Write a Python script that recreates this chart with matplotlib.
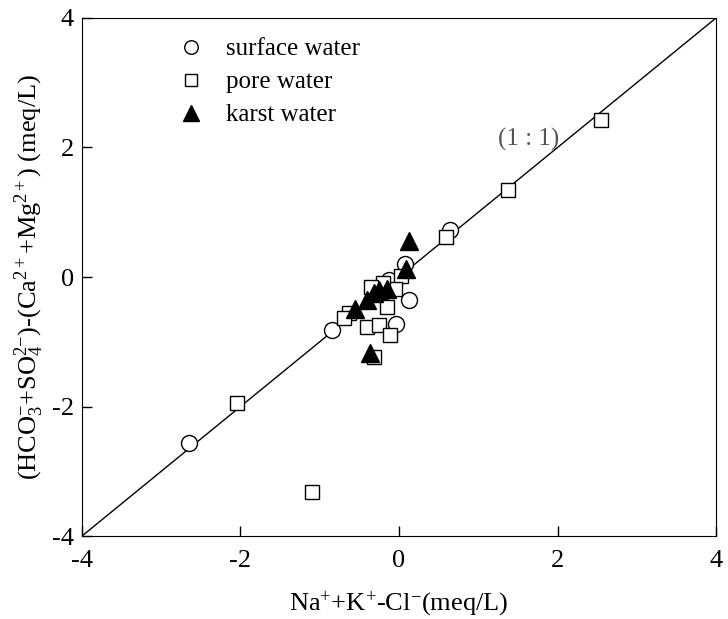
import numpy as np
import matplotlib
matplotlib.use("Agg")
import matplotlib.pyplot as plt

plt.rcParams["font.family"] = ["Liberation Serif", "DejaVu Serif"]
plt.rcParams["mathtext.fontset"] = "custom"
plt.rcParams["mathtext.rm"] = "Liberation Serif"
plt.rcParams["mathtext.it"] = "Liberation Serif:italic"
plt.rcParams["axes.unicode_minus"] = False

# surface water
sw_x = [-2.65, 0.64, 0.08, -0.13, 0.13, -0.85, -0.04]
sw_y = [-2.56, 0.72, 0.20, -0.05, -0.35, -0.82, -0.73]

# pore water
pw_x = [-2.04, -1.10, 1.37, 2.55, 0.59, 0.02, -0.05, -0.20, -0.35, -0.15,
        -0.63, -0.70, -0.40, -0.25, -0.11, -0.32]
pw_y = [-1.94, -3.32, 1.35, 2.42, 0.62, 0.02, -0.18, -0.10, -0.15, -0.46,
        -0.56, -0.64, -0.77, -0.74, -0.90, -1.24]

# karst water
kw_x = [0.13, 0.09, -0.15, -0.25, -0.32, -0.41, -0.56, -0.36]
kw_y = [0.55, 0.13, -0.18, -0.20, -0.24, -0.35, -0.49, -1.17]

fig = plt.figure(figsize=(7.28, 6.19), dpi=100)
ax = fig.add_axes([0.1126, 0.134, 0.871, 0.837])

ax.plot([-4, 4], [-4, 4], color="black", lw=1.0, zorder=1)

ax.plot(sw_x, sw_y, "o", ms=11.5, mfc="white", mec="black", mew=1.0,
        label="surface water", zorder=2)
ax.plot(pw_x, pw_y, "s", ms=10.5, mfc="white", mec="black", mew=1.0,
        label="pore water", zorder=3)
ax.plot(kw_x, kw_y, "^", ms=13, mfc="black", mec="black",
        label="karst water", zorder=4)

ax.text(1.63, 2.12, "(1 : 1)", fontsize=18, color="#555555",
        ha="center", va="center")

ax.set_xlim(-4, 4)
ax.set_ylim(-4, 4)
ax.set_xticks([-4, -2, 0, 2, 4])
ax.set_yticks([-4, -2, 0, 2, 4])
ax.tick_params(direction="in", length=7, width=1, labelsize=19)
ax.tick_params(axis="x", pad=10)
ax.tick_params(axis="y", pad=6)

ax.set_xlabel(r"Na$^{+}$+K$^{+}$-Cl$^{\mathrm{-}}$(meq/L)", fontsize=19,
              labelpad=12)
ax.set_ylabel(r"(HCO$_3^{\mathrm{-}}$+SO$_4^{2\mathrm{-}}$)-(Ca$^{2+}$+Mg$^{2+}$) (meq/L)",
              fontsize=19, labelpad=4)

leg = ax.legend(loc="upper left", bbox_to_anchor=(0.113, 1.005), frameon=False,
                fontsize=18, handletextpad=0.8, labelspacing=0.42,
                handlelength=1.2, markerscale=0.85)

fig.savefig("out.png", dpi=100)
